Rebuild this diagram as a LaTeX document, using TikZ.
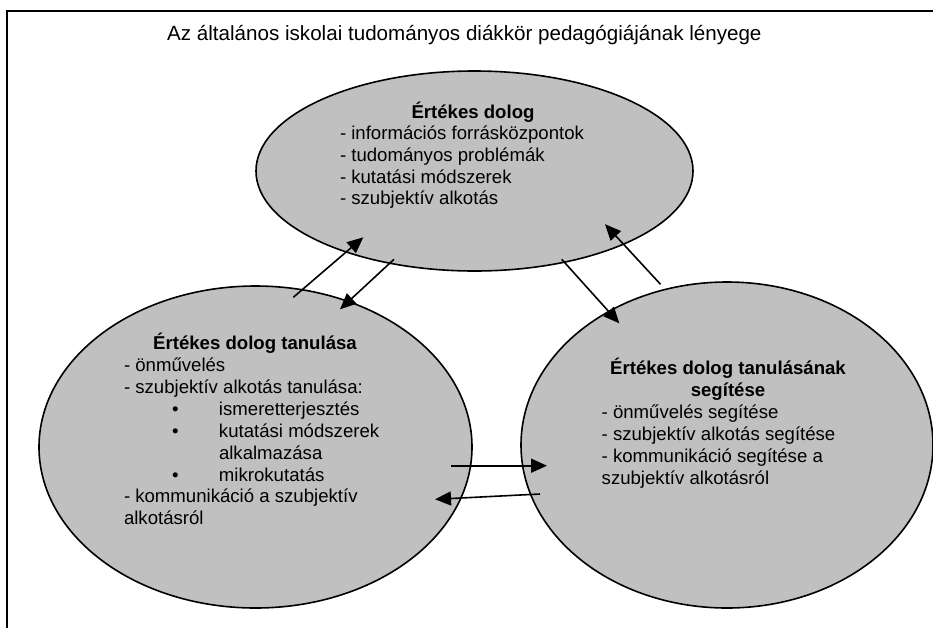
\documentclass[tikz,border=0pt]{standalone}
\usepackage{fontspec}
\setmainfont{Liberation Sans}
\usetikzlibrary{shapes.geometric,arrows.meta}
\definecolor{ovalgray}{RGB}{192,192,192}
\newcommand\mybullet{\makebox[95pt][l]{\hspace*{48pt}•}}
\begin{document}
\begin{tikzpicture}[x=1pt,y=-1pt,
  oval/.style={ellipse, draw=black, line width=1.6pt, fill=ovalgray, inner sep=0pt, outer sep=0pt},
  conn/.style={line width=1.6pt, -{Triangle[length=16pt,width=14pt]}},
  txt/.style={inner sep=0pt, outer sep=0pt, align=left, anchor=north west},
  frame/.style={line width=1.5pt, draw=black}
]
\useasboundingbox (0,0) rectangle (933,627);
\clip (0,0) rectangle (933,627);
\fill[white] (0,0) rectangle (933,627);
\draw[frame] (945,11) -- (7,11) -- (7,640);

\node[font=\fontsize{20.6}{24}\selectfont, anchor=base west, inner sep=0pt] (title) at (167,40.7)
  {Az általános iskolai tudományos diákkör pedagógiájának lényege};

\node[oval, minimum width=437pt, minimum height=200pt] (top) at (474.5,171) {};
\node[oval, minimum width=433pt, minimum height=322pt] (left) at (255.5,447) {};
\node[oval, minimum width=412pt, minimum height=326pt] (right) at (727,445) {};

\node[txt, font=\fontsize{18.6}{21.65}\selectfont] (toptext) at (340,98.3)
  {\rule{0pt}{20pt}\makebox[266pt]{\bfseries Értékes dolog}\\
   - információs forrásközpontok\\
   - tudományos problémák\\
   - kutatási módszerek\\
   - szubjektív alkotás};

\node[txt, font=\fontsize{18.6}{21.95}\selectfont] (lefttext) at (124,329.3)
  {\rule{0pt}{20pt}\makebox[262pt]{\bfseries Értékes dolog tanulása}\\
   - önművelés\\
   - szubjektív alkotás tanulása:\\
   \mybullet ismeretterjesztés\\
   \mybullet kutatási módszerek\\
   \hspace*{95pt}alkalmazása\\
   \mybullet mikrokutatás\\
   - kommunikáció a szubjektív\\
   alkotásról};

\node[txt, font=\fontsize{18.6}{22}\selectfont] (righttext) at (601.7,354.6)
  {\rule{0pt}{20pt}\makebox[252.6pt]{\bfseries Értékes dolog tanulásának}\\
   \makebox[252.6pt]{\bfseries segítése}\\
   - önművelés segítése\\
   - szubjektív alkotás segítése\\
   - kommunikáció segítése a\\
   szubjektív alkotásról};

\coordinate (a1s) at (293.3,297.3); \coordinate (a1e) at (363.3,237.3);
\coordinate (a2s) at (394,259.3);   \coordinate (a2e) at (340,309.3);
\coordinate (a3s) at (561.7,259.3); \coordinate (a3e) at (619.3,323.3);
\coordinate (a4s) at (660.5,284.3); \coordinate (a4e) at (605,224.2);
\coordinate (a5s) at (451,465.7);   \coordinate (a5e) at (547,465.7);
\coordinate (a6s) at (540,494);     \coordinate (a6e) at (435,499.3);

\draw[conn] (a1s) -- (a1e);
\draw[conn] (a2s) -- (a2e);
\draw[conn] (a3s) -- (a3e);
\draw[conn] (a4s) -- (a4e);
\draw[conn] (a5s) -- (a5e);
\draw[conn] (a6s) -- (a6e);
\end{tikzpicture}
\end{document}
